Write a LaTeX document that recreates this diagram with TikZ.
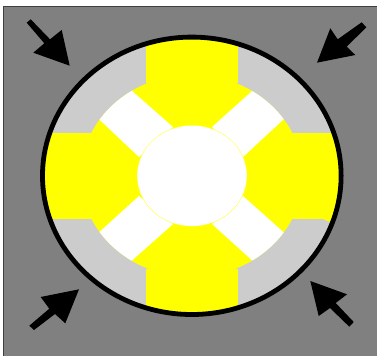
\documentclass[tikz,border=0pt]{standalone}
\definecolor{bggray}{RGB}{128,128,128}
\definecolor{ringgray}{RGB}{204,204,204}
\definecolor{pureyellow}{RGB}{255,255,0}
\tikzset{
  px/.style={x=0.75pt,y=-0.75pt},
  pressarrow/.style={fill=black,draw=none},
  spoke/.style={fill=white,draw=none}
}
\begin{document}
\begin{tikzpicture}[px]
\useasboundingbox (0,0) rectangle (377,356);
\fill[white] (0,0) rectangle (377,356);
\fill[bggray] (3,6.5) rectangle (377,356);
\draw[black!75,line width=0.7pt] (3.4,356) -- (3.4,6.9) -- (377,6.9);
% outer body
\fill[ringgray] (191.8,175.8) ellipse [x radius=149.3,y radius=138.7];
\begin{scope}
\clip (191.8,175.8) ellipse [x radius=149.3,y radius=138.7];
\fill[pureyellow] (191.8,175.8) ellipse [x radius=111,y radius=101];
\fill[pureyellow] (146,30) rectangle (238,83);
\fill[pureyellow] (146,268.5) rectangle (238,320);
\fill[pureyellow] (35,133) rectangle (92,219);
\fill[pureyellow] (292,133) rectangle (350,219);
\fill[pureyellow] (323,219) -- (350,219) -- (350,232) -- (329,221.5) -- cycle;
\end{scope}
% white spokes, ending on the inner ellipse
\begin{scope}
\clip (191.8,175.8) ellipse [x radius=111,y radius=101];
\fill[spoke] (119,79.5) -- (173,127) -- (139,157) -- (84,105) -- cycle;
\fill[spoke] (265,79.5) -- (212,127) -- (243,157) -- (299,105) -- cycle;
\fill[spoke] (84,246) -- (139,196) -- (173,224) -- (119,272) -- cycle;
\fill[spoke] (299,246) -- (243,196) -- (212,224) -- (265,272) -- cycle;
\end{scope}
% hub
\filldraw[fill=white,draw=pureyellow,line width=0.2pt] (192,175.8) ellipse [x radius=55,y radius=50.5];
% casing
\draw[black,line width=3.6pt] (191.8,175.8) ellipse [x radius=149.3,y radius=138.7];
% arrows
\fill[pressarrow] (69.7,65.7) -- (33.3,52.7) -- (44.3,43.3) -- (26.7,22.7) -- (30.7,19.3) -- (50,39.3) -- (61.7,30) -- cycle;
\fill[pressarrow] (317,62.7) -- (355.3,55) -- (346.7,46.7) -- (366.3,27.3) -- (361.7,22.3) -- (337.7,39.3) -- (330.3,28.3) -- cycle;
\fill[pressarrow] (310.3,281) -- (347,294.3) -- (335.7,303) -- (353.7,322) -- (349.3,326.7) -- (330,308) -- (318.7,316) -- cycle;
\fill[pressarrow] (79,289.3) -- (40.7,297) -- (49.3,308.7) -- (29.3,325.7) -- (34,330) -- (55,314) -- (65.3,323.3) -- cycle;
\end{tikzpicture}
\end{document}
